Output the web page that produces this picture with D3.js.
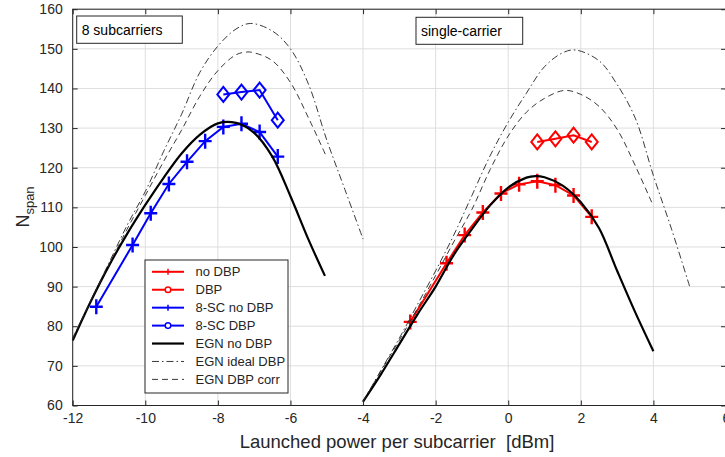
<!DOCTYPE html>
<html><head><meta charset="utf-8">
<script src="https://cdn.jsdelivr.net/npm/d3@7"></script>
<style>
html,body{margin:0;padding:0;background:#fff;overflow:hidden}
text{font-family:"Liberation Sans",Arial,sans-serif}
</style></head>
<body><svg id="c" width="725" height="457"></svg>
<script>
// ---------- data ----------
const xTicks = [-12,-10,-8,-6,-4,-2,0,2,4,6];
const yTicks = [60,70,80,90,100,110,120,130,140,150,160];

// single-carrier measurements
const scNoDbpP = [-2.7,-1.7,-1.2,-0.7,-0.2,0.3,0.8,1.3,1.8,2.3];
const scNoDbpN = [81.1,95.9,103.0,108.7,113.5,115.8,116.6,115.6,113.0,107.6];
const scDbpP = [0.8,1.3,1.8,2.3];
const scDbpN = [126.5,127.3,128.2,126.5];
// 8-subcarrier measurements
const mcNoDbpP = [-11.35,-10.35,-9.85,-9.35,-8.85,-8.35,-7.85,-7.35,-6.85,-6.35];
const mcNoDbpN = [84.9,100.5,108.5,115.9,121.5,126.7,130.3,131.1,129.0,122.8];
const mcDbpP = [-7.85,-7.35,-6.85,-6.35];
const mcDbpN = [138.5,139.1,139.6,132.0];

// EGN model curves, 8 subcarriers
const egnMcNoDbpP = [-12,-11.5,-11,-10.5,-10,-9.5,-9,-8.5,-8,-7.5,-7,-6.5,-6,-5.5,-5.05];
const egnMcNoDbpN = [76.4,86.3,95.3,103.3,110.6,117.4,123.6,128.3,131.2,131.3,128.8,122.8,112.8,101.8,92.7];
const egnMcIdealP = [-12,-11.5,-11,-10.5,-10,-9.5,-9,-8.5,-8,-7.5,-7.1,-6.5,-6,-5.5,-5,-4.5,-4];
const egnMcIdealN = [77,86.5,96,105.5,114,124,133.5,144,150.7,155,156.4,154.5,150,141,127,114.5,102];
const egnMcCorrP = [-12,-11.5,-11,-10.5,-10,-9.5,-9,-8.5,-8,-7.5,-7.2,-7,-6.5,-6,-5.5,-5.02];
const egnMcCorrN = [76.8,86.5,95.5,104.5,113,121.5,129.5,138,144.5,148.5,149.2,149,147,141.5,132.5,123];
// EGN model curves, single carrier
const egnScNoDbpP = [-4,-3.5,-3,-2.5,-2,-1.5,-1,-0.5,0,0.5,0.75,1,1.5,2,2.5,3,3.5,4];
const egnScNoDbpN = [61,68,75.5,83,90,98,104.5,110.5,115,117.5,117.9,117.6,115.5,111.3,104.8,94,83.5,73.7];
const egnScIdealP = [-4,-3.5,-3,-2.5,-2,-1.5,-1,-0.5,0,0.5,1,1.5,1.85,2.5,3,3.5,4,4.5,5];
const egnScIdealN = [61,69,77,85.5,94,103,113,123,131.5,138.8,145.5,149,149.7,147,141,132.5,118,104.5,90];
const egnScCorrP = [-4,-3.5,-3,-2.5,-2,-1.5,-1,-0.5,0,0.5,1,1.55,2,2.5,3,3.5,4];
const egnScCorrN = [61,68.8,76.5,84.5,92.8,101.3,109.5,119.5,128,134,137.5,139.5,138.5,135.5,129.7,120.5,110.3];

const legendLabels = ["no DBP","DBP","8-SC no DBP","8-SC DBP","EGN no DBP","EGN ideal DBP","EGN DBP corr"];
const panelLabels = ["8 subcarriers","single-carrier"];

// ---------- drawing ----------
const svg = d3.select("#c");
const L = 72.7, T = 9.2, R = 726, B = 405.5;
const x = d3.scaleLinear().domain([-12,6]).range([L,R]);
const y = d3.scaleLinear().domain([60,160]).range([B,T]);
const axisCol = "#262626";

const zip = (a,b)=>a.map((v,i)=>[v,b[i]]);

// grid
const g = svg.append("g");
g.selectAll(".gx").data(xTicks).enter().append("line")
  .attr("x1",d=>x(d)).attr("x2",d=>x(d)).attr("y1",T).attr("y2",B)
  .attr("stroke","#dedede").attr("stroke-width",1);
g.selectAll(".gy").data(yTicks).enter().append("line")
  .attr("x1",L).attr("x2",R).attr("y1",d=>y(d)).attr("y2",d=>y(d))
  .attr("stroke","#dedede").attr("stroke-width",1);

const lineGen = d3.line().x(d=>x(d[0])).y(d=>y(d[1]));
const smooth = d3.line().x(d=>x(d[0])).y(d=>y(d[1])).curve(d3.curveCatmullRom.alpha(0.5));

// measured lines
function series(P,N,col){
  svg.append("path").datum(zip(P,N)).attr("d",lineGen)
    .attr("fill","none").attr("stroke",col).attr("stroke-width",2);
}
function plusMarks(P,N,col){
  svg.append("g").selectAll("path").data(zip(P,N)).enter().append("path")
    .attr("d",d=>{const cx=x(d[0]),cy=y(d[1]);return `M${cx-6.5},${cy}H${cx+6.5}M${cx},${cy-7.5}V${cy+7.5}`;})
    .attr("stroke",col).attr("stroke-width",2.4).attr("fill","none");
}
function diamondMarks(P,N,col){
  svg.append("g").selectAll("path").data(zip(P,N)).enter().append("path")
    .attr("d",d=>{const cx=x(d[0]),cy=y(d[1]);return `M${cx},${cy-7.5}L${cx+6},${cy}L${cx},${cy+7.5}L${cx-6},${cy}Z`;})
    .attr("stroke",col).attr("stroke-width",2).attr("fill","none");
}
series(mcNoDbpP,mcNoDbpN,"#0000ff");
series(mcDbpP,mcDbpN,"#0000ff");
series(scNoDbpP,scNoDbpN,"#ff0000");
series(scDbpP,scDbpN,"#ff0000");
plusMarks(mcNoDbpP,mcNoDbpN,"#0000ff");
diamondMarks(mcDbpP,mcDbpN,"#0000ff");
plusMarks(scNoDbpP,scNoDbpN,"#ff0000");
diamondMarks(scDbpP,scDbpN,"#ff0000");

// EGN curves
function egn(P,N,w,dash,col){
  svg.append("path").datum(zip(P,N)).attr("d",smooth)
    .attr("fill","none").attr("stroke",col).attr("stroke-width",w)
    .attr("stroke-dasharray",dash);
}
const DASHDOT = "7,3,1.5,3", DASH = "6,4";
egn(egnMcNoDbpP,egnMcNoDbpN,2.2,null,"#000");
egn(egnScNoDbpP,egnScNoDbpN,2.2,null,"#000");
egn(egnMcIdealP,egnMcIdealN,0.9,DASHDOT,"#222");
egn(egnScIdealP,egnScIdealN,0.9,DASHDOT,"#222");
egn(egnMcCorrP,egnMcCorrN,0.9,DASH,"#222");
egn(egnScCorrP,egnScCorrN,0.9,DASH,"#222");

// axes box and ticks
const fmt = d => String(d);
const ax = svg.append("g");
ax.append("rect").attr("x",L).attr("y",T).attr("width",R-L).attr("height",B-T)
  .attr("fill","none").attr("stroke",axisCol).attr("stroke-width",1);
const xb = d3.axisBottom(x).tickValues(xTicks).tickFormat(fmt).tickSizeInner(-5).tickSizeOuter(0).tickPadding(8);
const yl = d3.axisLeft(y).tickValues(yTicks).tickFormat(fmt).tickSizeInner(-5).tickSizeOuter(0).tickPadding(10);
const xt = d3.axisTop(x).tickValues(xTicks).tickSizeInner(-5).tickSizeOuter(0).tickFormat("");
const yr = d3.axisRight(y).tickValues(yTicks).tickSizeInner(-5).tickSizeOuter(0).tickFormat("");
function styleAxis(sel){
  sel.select(".domain").remove();
  sel.selectAll("line").attr("stroke",axisCol);
  sel.selectAll("text").attr("fill",axisCol).style("font-size","14px")
    .style("font-family","'Liberation Sans',Arial,sans-serif");
}
ax.append("g").attr("transform",`translate(0,${B})`).call(xb).call(styleAxis);
ax.append("g").attr("transform",`translate(${L},0)`).call(yl).call(styleAxis);
ax.append("g").attr("transform",`translate(0,${T})`).call(xt).call(styleAxis);
ax.append("g").attr("transform",`translate(${R},0)`).call(yr).call(styleAxis);

// axis titles
svg.append("text").attr("x",397).attr("y",448).attr("text-anchor","middle")
  .attr("fill",axisCol).style("font-size","18.5px").attr("xml:space","preserve")
  .text("Launched power per subcarrier  [dBm]");
const yt = svg.append("text").attr("transform","translate(29,207) rotate(-90)")
  .attr("text-anchor","middle").attr("fill",axisCol).style("font-size","18px");
yt.append("tspan").text("N");
yt.append("tspan").attr("dy",5).style("font-size","13px").text("span");

// panel label boxes
function panelBox(bx,by,w,h,label){
  svg.append("rect").attr("x",bx).attr("y",by).attr("width",w).attr("height",h)
    .attr("fill","#fff").attr("stroke",axisCol).attr("stroke-width",1);
  svg.append("text").attr("x",bx+5).attr("y",by+19).attr("fill","#000")
    .style("font-size","14px").text(label);
}
panelBox(76.7,16,105.6,27.3,panelLabels[0]);
panelBox(416,17.3,106.7,27,panelLabels[1]);

// legend
const lg = svg.append("g");
lg.append("rect").attr("x",145).attr("y",260).attr("width",143).attr("height",133)
  .attr("fill","#fff").attr("stroke",axisCol).attr("stroke-width",1);
const legStyles = [
  {col:"#ff0000",w:2,dash:null,m:"plus"},
  {col:"#ff0000",w:2,dash:null,m:"circ"},
  {col:"#0000ff",w:2,dash:null,m:"plus"},
  {col:"#0000ff",w:2,dash:null,m:"circ"},
  {col:"#000",w:2.2,dash:null,m:null},
  {col:"#222",w:0.9,dash:DASHDOT,m:null},
  {col:"#222",w:0.9,dash:DASH,m:null}
];
const legY = d3.scaleLinear().domain([0,6]).range([271.8,379.4]);
legendLabels.forEach((lab,i)=>{
  const s = legStyles[i], yy = legY(i);
  lg.append("line").attr("x1",152).attr("x2",184).attr("y1",yy).attr("y2",yy)
    .attr("stroke",s.col).attr("stroke-width",s.w).attr("stroke-dasharray",s.dash);
  if(s.m==="plus") lg.append("path").attr("d",`M168,${yy-3}V${yy+3}`).attr("stroke",s.col).attr("stroke-width",1.5);
  if(s.m==="circ") lg.append("circle").attr("cx",168).attr("cy",yy).attr("r",2.8)
    .attr("fill","#fff").attr("stroke",s.col).attr("stroke-width",1.5);
  lg.append("text").attr("x",195.5).attr("y",yy+4.5).attr("fill",axisCol)
    .style("font-size","13px").text(lab);
});
</script></body></html>
